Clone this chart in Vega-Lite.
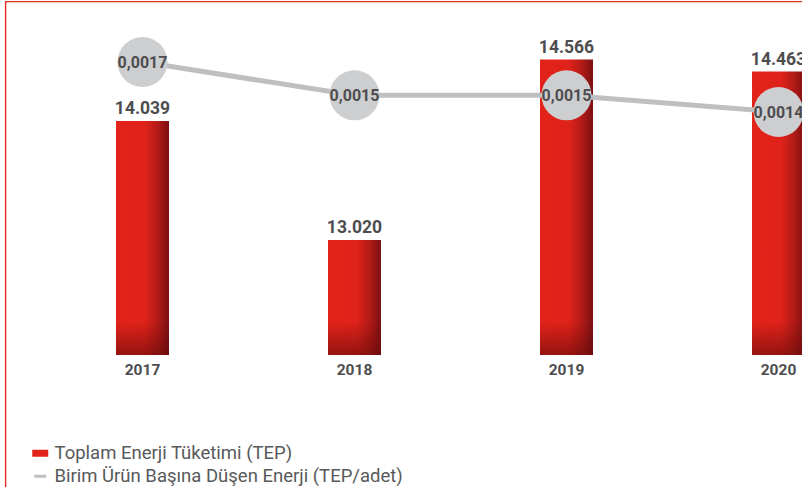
{
  "$schema": "https://vega.github.io/schema/vega-lite/v6.json",
  "width": 820,
  "height": 500,
  "autosize": {"type": "none"},
  "padding": {"left": 5.5, "top": 1.5, "right": -23.5, "bottom": -14.5},
  "background": "#ffffff",
  "config": {
    "view": {"stroke": "#e62a22", "strokeWidth": 1.4},
    "locale": {"number": {"decimal": ",", "thousands": ".", "grouping": [3], "currency": ["", ""]}},
    "text": {"font": "Roboto"},
    "legend": {
      "orient": "none",
      "legendX": 25.5,
      "legendY": 442.5,
      "labelFont": "Roboto",
      "labelFontSize": 18.5,
      "labelColor": "#58595b",
      "labelOffset": 5,
      "symbolSize": 256,
      "symbolStrokeWidth": 0,
      "symbolOpacity": 1,
      "rowPadding": 4,
      "labelLimit": 600
    }
  },
  "datasets": {
    "main": [
      {"year": "2017", "tep": 14039, "ratio": 0.0017},
      {"year": "2018", "tep": 13020, "ratio": 0.0015},
      {"year": "2019", "tep": 14566, "ratio": 0.0015},
      {"year": "2020", "tep": 14463, "ratio": 0.0014}
    ],
    "legendItems": [
      {"series": "Toplam Enerji Tüketimi (TEP)"},
      {"series": "Birim Ürün Başına Düşen Enerji (TEP/adet)"}
    ]
  },
  "data": {"name": "main"},
  "encoding": {
    "x": {
      "field": "year",
      "type": "nominal",
      "scale": {"range": [4.5, 905.5], "paddingInner": 0.75, "paddingOuter": 0.5},
      "axis": {
        "title": null,
        "labelAngle": 0,
        "domain": false,
        "ticks": false,
        "tickSize": 0,
        "grid": false,
        "offset": -146.5,
        "labelPadding": 7,
        "labelFont": "Roboto",
        "labelFontWeight": "bold",
        "labelFontSize": 15.5,
        "labelColor": "#4d4d4f"
      }
    }
  },
  "layer": [
    {
      "encoding": {
        "y": {"field": "tep", "type": "quantitative", "scale": {"domain": [10780, 15062], "zero": false, "nice": false}, "axis": null}
      },
      "layer": [
        {
          "mark": {
            "type": "bar",
            "clip": false,
            "color": {
              "gradient": "linear", "x1": 0, "y1": 0, "x2": 1, "y2": 0,
              "stops": [
                {"offset": 0, "color": "#e2231a"},
                {"offset": 0.55, "color": "#df221a"},
                {"offset": 0.8, "color": "#b01a16"},
                {"offset": 1, "color": "#7a1012"}
              ]
            }
          },
          "encoding": {"y2": {"datum": 12035}}
        },
        {
          "mark": {
            "type": "bar",
            "clip": false,
            "color": {
              "gradient": "linear", "x1": 0, "y1": 0, "x2": 0, "y2": 1,
              "stops": [
                {"offset": 0, "color": "rgba(100,10,10,0)"},
                {"offset": 1, "color": "rgba(100,10,10,0.6)"}
              ]
            }
          },
          "encoding": {"y": {"datum": 12325, "type": "quantitative"}, "y2": {"datum": 12035}}
        },
        {
          "mark": {"type": "text", "baseline": "alphabetic", "dy": -6.5, "font": "Roboto", "fontWeight": "bold", "fontSize": 17.5, "color": "#4d4d4f", "clip": false},
          "encoding": {"text": {"field": "tep", "type": "quantitative", "format": ",.0f"}}
        }
      ]
    },
    {
      "encoding": {
        "y": {"field": "ratio", "type": "quantitative", "scale": {"domain": [-0.000937, 0.002063], "zero": false, "nice": false}, "axis": null}
      },
      "layer": [
        {"mark": {"type": "line", "color": "#bebfc1", "strokeWidth": 5, "clip": false}},
        {"mark": {"type": "point", "filled": true, "color": "#cdcecf", "opacity": 1, "size": 2500, "clip": false}},
        {
          "mark": {"type": "text", "baseline": "alphabetic", "dy": 5.8, "font": "Roboto", "fontWeight": "bold", "fontSize": 16, "color": "#4d4d4f", "clip": false},
          "encoding": {"text": {"field": "ratio", "type": "quantitative", "format": ".4f"}}
        }
      ]
    },
    {
      "data": {"name": "legendItems"},
      "mark": {"type": "point", "filled": true, "opacity": 0},
      "encoding": {
        "x": {"value": 0},
        "color": {
          "field": "series", "type": "nominal",
          "scale": {"domain": ["Toplam Enerji Tüketimi (TEP)", "Birim Ürün Başına Düşen Enerji (TEP/adet)"], "range": ["#e2231a", "#bebfc1"]},
          "legend": {"title": null}
        },
        "shape": {
          "field": "series", "type": "nominal",
          "scale": {"domain": ["Toplam Enerji Tüketimi (TEP)", "Birim Ürün Başına Düşen Enerji (TEP/adet)"], "range": ["M-1,-0.4375H1V0.4375H-1Z", "M-0.75,-0.1875H0.75V0.1875H-0.75Z"]},
          "legend": {"title": null}
        }
      }
    }
  ],
  "resolve": {"scale": {"y": "independent"}}
}
